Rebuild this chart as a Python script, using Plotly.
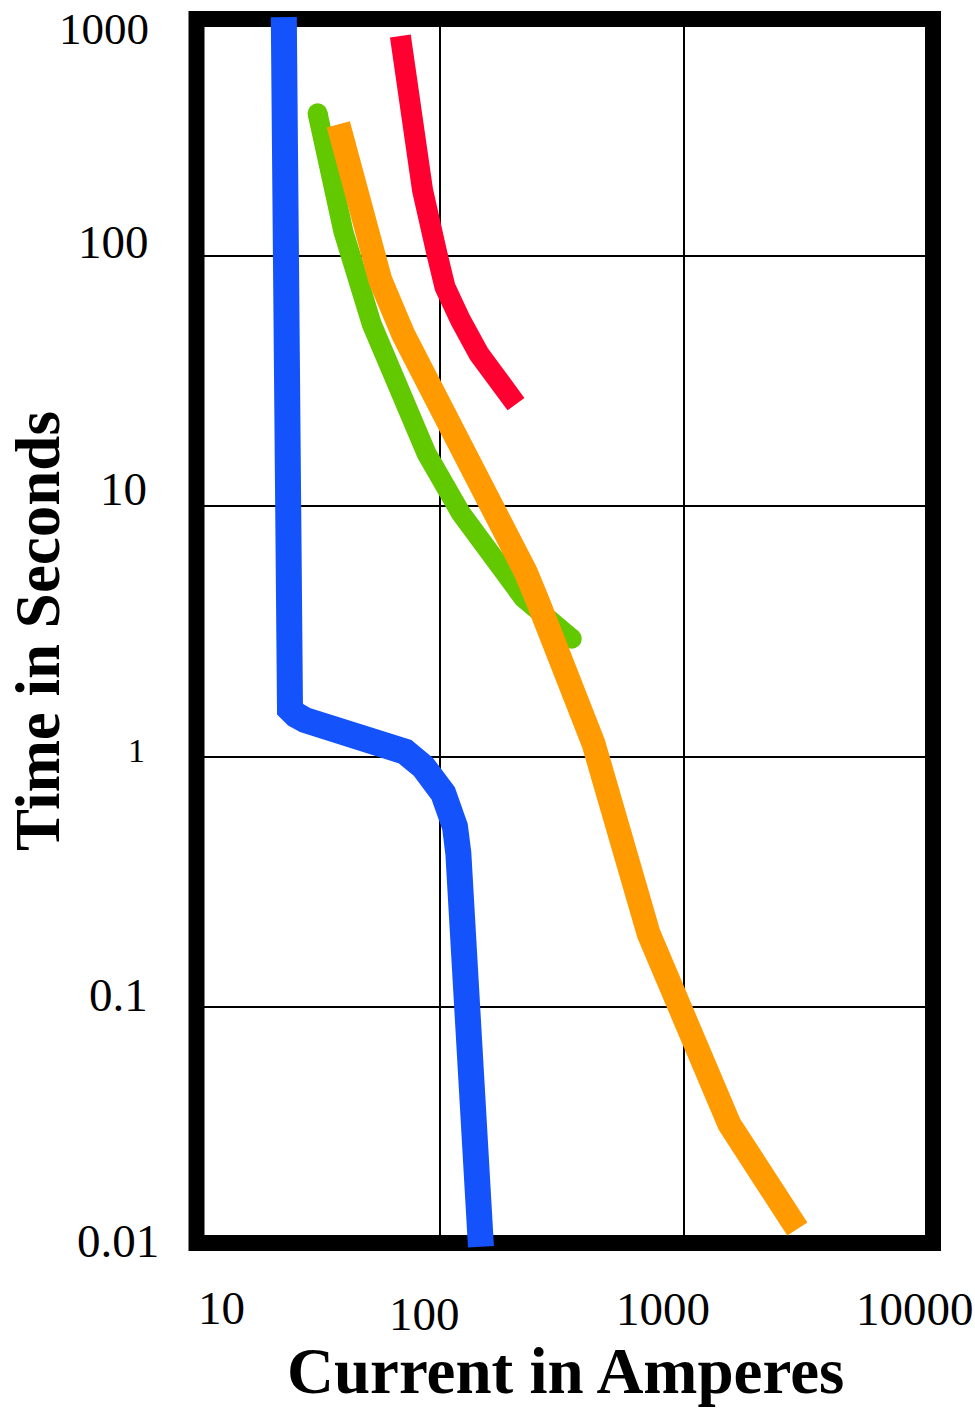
import numpy as np
import plotly.graph_objects as go

# ---- data (current in A, time in s) ----
blue_current = [22.9, 22.9, 23.06, 23.49, 24.28, 25.69, 28.0, 71.9, 85.4, 103.1, 109.9, 115.2, 118.9, 122.7, 126.6, 132.7, 147.2]
blue_time    = [901, 2.02, 1.812, 1.653, 1.549, 1.466, 1.40, 1.046, 0.911, 0.713, 0.631, 0.525, 0.411, 0.267, 0.132, 0.0673, 0.011]

red_current = [68.8, 73.0, 77.2, 84.8, 97.2, 104.8, 121.6, 144.5, 204.8]
red_time    = [756, 491, 307, 183.5, 101.9, 75.2, 55.2, 40.6, 25.6]

green_current = [31.5, 40.2, 52.5, 69.0, 88.2, 121.6, 170.8, 219.5, 346.6]
green_time    = [371.6, 125.1, 53.4, 27.0, 16.2, 9.41, 6.05, 4.31, 2.96]

orange_current = [38.3, 49.1, 56.9, 71.0, 87.4, 111.7, 163.8, 224.5, 250.5, 310.3, 425, 716.5, 1099, 1534, 2913]
orange_time    = [335.6, 120.9, 80.3, 48.2, 33.2, 21.3, 10.6, 5.46, 4.22, 2.50, 1.133, 0.196, 0.0715, 0.034, 0.01296]

x_tick_values = [10, 100, 1000, 10000]
x_tick_labels = ["10", "100", "1000", "10000"]
y_tick_values = [1000, 100, 10, 1, 0.1, 0.01]
y_tick_labels = ["1000", "100", "10", "1", "0.1", "0.01"]

# ---- styling ----
BLUE = "rgb(20,82,252)"
RED = "rgb(255,0,48)"
GREEN = "rgb(98,200,0)"
ORANGE = "rgb(255,155,0)"
FONT = "Liberation Serif, Times New Roman, serif"

W, H = 975, 1410
ML, MR, MT, MB = 190, 35, 12, 160
XR = [0.9754, 4.0492]
YR = [-1.9712, 2.9748]

fig = go.Figure()
fig.add_trace(go.Scatter(x=green_current, y=green_time, mode="lines",
                         line=dict(color=GREEN, width=20), hoverinfo="skip"))
fig.add_trace(go.Scatter(x=[green_current[0], green_current[-1]], y=[green_time[0], green_time[-1]],
                         mode="markers", marker=dict(color=GREEN, size=20, line=dict(width=0)),
                         hoverinfo="skip"))
fig.add_trace(go.Scatter(x=orange_current, y=orange_time, mode="lines",
                         line=dict(color=ORANGE, width=24), hoverinfo="skip"))
fig.add_trace(go.Scatter(x=red_current, y=red_time, mode="lines",
                         line=dict(color=RED, width=21), hoverinfo="skip"))
fig.add_trace(go.Scatter(x=blue_current, y=blue_time, mode="lines",
                         line=dict(color=BLUE, width=26), hoverinfo="skip"))

# frame (thick black border)
pw, ph = W - ML - MR, H - MT - MB
fx0 = (196.5 - ML) / pw
fx1 = (933 - ML) / pw
fy0 = (H - MB - 1243) / ph
fy1 = (H - MB - 19) / ph
shapes = [dict(type="rect", xref="paper", yref="paper", x0=fx0, x1=fx1, y0=fy0, y1=fy1,
               line=dict(color="black", width=16), fillcolor="rgba(0,0,0,0)", layer="below")]
# small tick on the bottom edge at 200 A
shapes.append(dict(type="line", xref="x", yref="paper", x0=np.log10(200), x1=np.log10(200),
                   y0=(H - MB - 1235) / ph, y1=(H - MB - 1225) / ph,
                   line=dict(color="black", width=2), layer="below"))
# the 0.1 s gridline pokes slightly out past the right edge of the frame
shapes.append(dict(type="line", xref="paper", yref="y", x0=fx1, x1=(943 - ML) / pw,
                   y0=np.log10(0.1), y1=np.log10(0.1),
                   line=dict(color="black", width=2), layer="above"))

annotations = []
# y tick labels
y_right = [151, 151, 149, 147, 150, 161]
y_center = [29, 242, 489, 750, 995, 1241]
y_sizes = [45, 47, 47, 34, 47, 47]
for v, lab, xr, yc, fs in zip(y_tick_values, y_tick_labels, y_right, y_center, y_sizes):
    annotations.append(dict(text=lab, xref="paper", yref="paper",
                            x=(xr - ML) / pw, y=(H - MB - yc) / ph,
                            xanchor="right", yanchor="middle", showarrow=False,
                            font=dict(family=FONT, size=fs, color="black")))
# x tick labels
x_center = [221, 424, 663, 915]
x_vcenter = [1308, 1314, 1309, 1309]
for v, lab, xc, yc in zip(x_tick_values, x_tick_labels, x_center, x_vcenter):
    annotations.append(dict(text=lab, xref="paper", yref="paper",
                            x=(xc - ML) / pw, y=(H - MB - yc) / ph,
                            xanchor="center", yanchor="middle", showarrow=False,
                            font=dict(family=FONT, size=47, color="black")))
# axis titles
annotations.append(dict(text="<b>Current in Amperes</b>", xref="paper", yref="paper",
                        x=(565 - ML) / pw, y=(H - MB - 1371) / ph,
                        xanchor="center", yanchor="middle", showarrow=False,
                        font=dict(family=FONT, size=65, color="black")))
annotations.append(dict(text="<b>Time in Seconds</b>", xref="paper", yref="paper",
                        x=(38 - ML) / pw, y=(H - MB - 631) / ph, textangle=-90,
                        xanchor="center", yanchor="middle", showarrow=False,
                        font=dict(family=FONT, size=63, color="black")))

fig.update_layout(
    width=W, height=H,
    margin=dict(l=ML, r=MR, t=MT, b=MB, pad=0),
    paper_bgcolor="white", plot_bgcolor="white",
    showlegend=False,
    shapes=shapes, annotations=annotations,
    xaxis=dict(type="log", range=XR, tickvals=[100, 1000], showticklabels=False, ticks="",
               showgrid=True, gridcolor="black", gridwidth=2, zeroline=False, showline=False,
               fixedrange=True),
    yaxis=dict(type="log", range=YR, tickvals=[0.1, 1, 10, 100], showticklabels=False, ticks="",
               showgrid=True, gridcolor="black", gridwidth=2, zeroline=False, showline=False,
               fixedrange=True),
)

fig.write_html("out.html")
